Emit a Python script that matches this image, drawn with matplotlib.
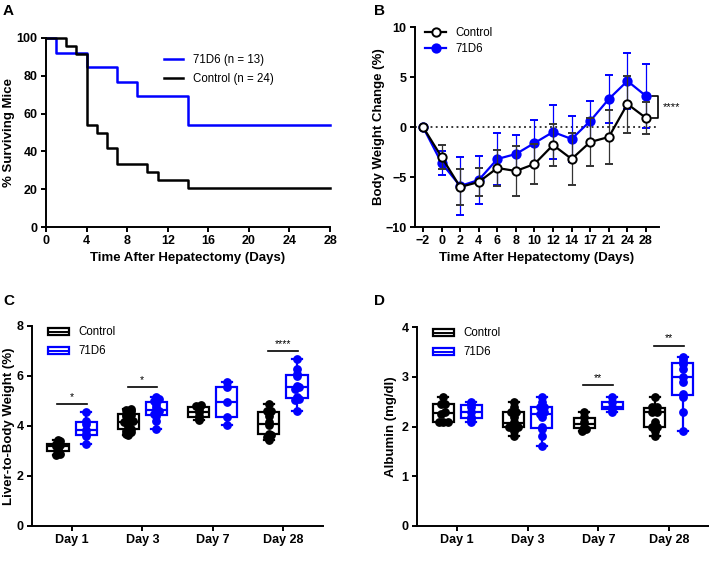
import numpy as np
import matplotlib
matplotlib.use("Agg")
import matplotlib.pyplot as plt
from matplotlib.patches import Patch
from matplotlib.lines import Line2D
from matplotlib.legend_handler import HandlerTuple

plt.rcParams["font.family"] = ["Liberation Sans", "DejaVu Sans"]
plt.rcParams["axes.linewidth"] = 1.4
plt.rcParams["xtick.major.width"] = 1.4
plt.rcParams["ytick.major.width"] = 1.4
plt.rcParams["xtick.major.size"] = 3.5
plt.rcParams["ytick.major.size"] = 3.5
plt.rcParams["xtick.major.pad"] = 2.5
plt.rcParams["ytick.major.pad"] = 2.5

BLUE = "#0000ff"

# ── A: Kaplan-Meier survival ──────────────────────────────────────────────────
km_71d6_days = [0, 1, 4, 7, 9, 14, 28]
km_71d6_surv = [100, 92.3, 84.6, 76.9, 69.2, 53.8, 53.8]
km_ctrl_days = [0, 2, 3, 4, 5, 6, 7, 10, 11, 14, 28]
km_ctrl_surv = [100, 95.8, 91.7, 54.2, 50.0, 41.7, 33.3, 29.2, 25.0, 20.8, 20.8]

# ── B: body weight change ─────────────────────────────────────────────────────
bw_days = ["\u22122", "0", "2", "4", "6", "8", "10", "12", "14", "17", "21", "24", "28"]
bw_ctrl = [0, -3.0, -6.0, -5.5, -4.1, -4.4, -3.7, -1.8, -3.2, -1.5, -1.0, 2.3, 0.9]
bw_ctrl_sd = [0, 1.2, 1.8, 1.4, 1.8, 2.5, 2.0, 2.1, 2.6, 2.4, 2.7, 2.85, 1.6]
bw_71d6 = [0, -3.6, -5.9, -5.3, -3.2, -2.7, -1.6, -0.5, -1.2, 0.6, 2.8, 4.6, 3.1]
bw_71d6_sd = [0, 1.2, 2.9, 2.4, 2.6, 1.9, 2.3, 2.7, 2.3, 2.0, 2.4, 2.8, 3.2]

# ── C / D: box plots ──────────────────────────────────────────────────────────
groups = ["Day 1", "Day 3", "Day 7", "Day 28"]
liver_ctrl = [
    [2.85, 2.9, 3.0, 3.1, 3.2, 3.25, 3.3, 3.4, 3.45],
    [3.65, 3.7, 3.75, 3.8, 3.9, 4.0, 4.1, 4.15, 4.15, 4.2, 4.4, 4.45, 4.5, 4.6, 4.65, 4.7],
    [4.25, 4.3, 4.4, 4.55, 4.7, 4.8, 4.85],
    [3.45, 3.55, 3.65, 3.7, 4.05, 4.15, 4.4, 4.6, 4.6, 4.9],
]
liver_71d6 = [
    [3.3, 3.6, 3.7, 3.85, 4.1, 4.2, 4.55],
    [3.9, 4.2, 4.4, 4.5, 4.6, 4.65, 4.75, 4.9, 5.0, 5.1, 5.15],
    [4.05, 4.35, 4.95, 5.55, 5.75],
    [4.6, 5.05, 5.1, 5.15, 5.5, 5.55, 5.6, 6.0, 6.1, 6.3, 6.7],
]
alb_ctrl = [
    [2.1, 2.1, 2.1, 2.25, 2.3, 2.45, 2.45, 2.6],
    [1.8, 1.9, 2.0, 2.0, 2.0, 2.05, 2.1, 2.2, 2.3, 2.3, 2.4, 2.5],
    [1.9, 1.95, 2.0, 2.1, 2.2, 2.3],
    [1.8, 1.9, 2.0, 2.0, 2.1, 2.3, 2.3, 2.35, 2.4, 2.4, 2.6],
]
alb_71d6 = [
    [2.1, 2.15, 2.2, 2.3, 2.4, 2.45, 2.5],
    [1.6, 1.8, 1.95, 2.0, 2.2, 2.25, 2.3, 2.4, 2.4, 2.5, 2.6],
    [2.3, 2.35, 2.4, 2.5, 2.6],
    [1.9, 2.3, 2.6, 2.65, 2.9, 3.0, 3.15, 3.25, 3.3, 3.35, 3.4],
]
liver_sig = [(0, 4.88, "*"), (1, 5.56, "*"), (3, 7.0, "****")]
alb_sig = [(2, 2.83, "**"), (3, 3.62, "**")]

W, H = 709, 575
fig = plt.figure(figsize=(W / 100, H / 100), dpi=100)


def px_axes(left, top, right, bottom):
    return fig.add_axes([left / W, 1 - bottom / H, (right - left) / W, (bottom - top) / H])


def style(ax):
    for s in ("top", "right"):
        ax.spines[s].set_visible(False)
    ax.tick_params(labelsize=9)
    for lab in ax.get_xticklabels() + ax.get_yticklabels():
        lab.set_fontweight("bold")


LABEL = dict(fontsize=9.5, fontweight="bold")

# ---------------------------------------------------------------- A
axA = px_axes(46, 38, 330, 227)
axA.step(km_71d6_days, km_71d6_surv, where="post", color=BLUE, lw=1.8,
         label="71D6 (n = 13)", clip_on=False)
axA.step(km_ctrl_days, km_ctrl_surv, where="post", color="black", lw=1.8,
         label="Control (n = 24)", clip_on=False)
axA.set_xlim(0, 28)
axA.set_ylim(0, 100)
axA.set_xticks(range(0, 29, 4))
axA.set_yticks(range(0, 101, 20))
axA.set_xlabel("Time After Hepatectomy (Days)", labelpad=3, **LABEL)
axA.set_ylabel("% Surviving Mice", labelpad=1, **LABEL)
axA.legend(loc="upper left", bbox_to_anchor=(0.38, 0.97), frameon=False,
           fontsize=8.3, handlelength=1.6, handletextpad=0.9, labelspacing=0.6)
style(axA)

# ---------------------------------------------------------------- B
axB = px_axes(415, 27, 659, 227)
xb = np.arange(len(bw_days))
axB.axhline(0, color="black", ls=(0, (1.2, 2.2)), lw=1.1, zorder=1)
axB.errorbar(xb, bw_71d6, yerr=bw_71d6_sd, color=BLUE, lw=1.6, marker="o", ms=6,
             mfc=BLUE, mec=BLUE, mew=1.4, ecolor=BLUE, elinewidth=0.9, capsize=3,
             capthick=0.9, zorder=3, clip_on=False)
axB.errorbar(xb, bw_ctrl, yerr=bw_ctrl_sd, color="black", lw=1.6, marker="o", ms=6,
             mfc="white", mec="black", mew=1.4, ecolor="#333333", elinewidth=0.9,
             capsize=3, capthick=0.9, zorder=4, clip_on=False)
axB.set_xlim(-0.43, 12.7)
axB.set_ylim(-10, 10)
axB.set_yticks([-10, -5, 0, 5, 10])
axB.set_yticklabels(["\u221210", "\u22125", "0", "5", "10"])
axB.set_xticks(xb)
axB.set_xticklabels(bw_days)
axB.set_xlabel("Time After Hepatectomy (Days)", labelpad=3, **LABEL)
axB.set_ylabel("Body Weight Change (%)", labelpad=0, **LABEL)
hB = [Line2D([], [], color="black", lw=1.6, marker="o", ms=6, mfc="white", mew=1.4),
      Line2D([], [], color=BLUE, lw=1.6, marker="o", ms=6, mfc=BLUE, mew=1.4)]
axB.legend(hB, ["Control", "71D6"], loc="upper left", bbox_to_anchor=(0.0, 1.05),
           frameon=False, fontsize=8.3, handlelength=1.8, labelspacing=0.35)
# significance bracket
y_top, y_bot = bw_71d6[-1], bw_ctrl[-1]
axB.plot([12.32, 12.65, 12.65, 12.32], [y_top, y_top, y_bot, y_bot], color="black",
         lw=1.2, clip_on=False)
axB.text(12.9, (y_top + y_bot) / 2, "****", fontsize=8, va="center", ha="left")
style(axB)


# ---------------------------------------------------------------- C / D
def spread(vals, step, dx=0.065):
    vals = np.asarray(vals)
    keys = np.round(vals / step).astype(int)
    off = np.zeros(len(vals))
    for k in np.unique(keys):
        idx = np.where(keys == k)[0]
        n = len(idx)
        off[idx] = (np.arange(n) - (n - 1) / 2) * dx
    return off


def boxes(ax, ctrl, trt, step):
    pos = np.arange(len(groups))
    for data, c, shift in ((ctrl, "black", -0.2), (trt, BLUE, 0.2)):
        lp = dict(color=c, lw=1.6)
        ax.boxplot(data, positions=pos + shift, widths=0.3, whis=(0, 100),
                   showfliers=False, patch_artist=True, capwidths=0.14,
                   boxprops=dict(facecolor="white", edgecolor=c, lw=1.6),
                   medianprops=lp, whiskerprops=lp, capprops=lp, zorder=2)
        for i, vals in enumerate(data):
            ax.plot(pos[i] + shift + spread(vals, step), vals, "o", color=c, ms=5.3,
                    zorder=3, clip_on=False)
    ax.set_xticks(pos)
    ax.set_xticklabels(groups)
    ax.set_xlim(-0.57, 3.57)
    handles = [(Patch(facecolor="white", edgecolor="black", lw=1.6),
                Line2D([], [], color="black", lw=1.4)),
               (Patch(facecolor="white", edgecolor=BLUE, lw=1.6),
                Line2D([], [], color=BLUE, lw=1.4))]
    ax.legend(handles, ["Control", "71D6"], handler_map={tuple: HandlerTuple(ndivide=1)},
              loc="upper left", bbox_to_anchor=(0.02, 1.05), frameon=False,
              fontsize=8.3, handlelength=1.8, handleheight=0.55, labelspacing=0.6)


def sig(ax, marks, ymax):
    for g, y, s in marks:
        ax.plot([g - 0.21, g + 0.21], [y, y], color="black", lw=1.2)
        ax.text(g, y + ymax * 0.012, s, ha="center", va="bottom", fontsize=7.5)


axC = px_axes(32, 326, 323, 526)
boxes(axC, liver_ctrl, liver_71d6, 0.12)
sig(axC, liver_sig, 8)
axC.set_ylim(0, 8)
axC.set_yticks([0, 2, 4, 6, 8])
axC.set_ylabel("Liver-to-Body Weight (%)", labelpad=1, **LABEL)
style(axC)

axD = px_axes(417, 327, 709, 526)
boxes(axD, alb_ctrl, alb_71d6, 0.06)
sig(axD, alb_sig, 4)
axD.set_ylim(0, 4)
axD.set_yticks([0, 1, 2, 3, 4])
axD.set_ylabel("Albumin (mg/dl)", labelpad=3, **LABEL)
style(axD)

for x, y, s in ((3, 4, "A"), (374, 4, "B"), (3, 294, "C"), (374, 294, "D")):
    fig.text(x / W, 1 - y / H, s, fontsize=11, fontweight="bold", va="top", ha="left")

fig.savefig("out.png", dpi=100)
